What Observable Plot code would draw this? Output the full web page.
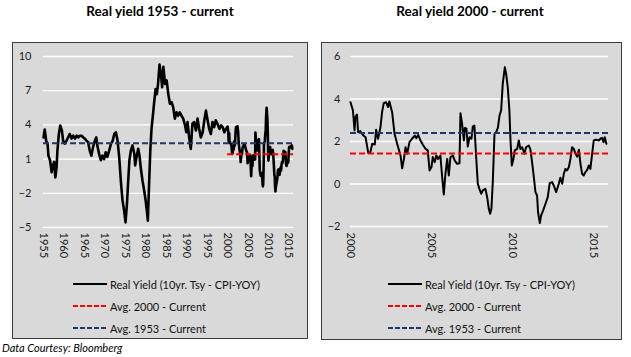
<!DOCTYPE html>
<html>
<head>
<meta charset="utf-8">
<script src="https://cdn.jsdelivr.net/npm/d3@7"></script>
<script src="https://cdn.jsdelivr.net/npm/@observablehq/plot@0.6"></script>
<style>
  html, body { margin: 0; padding: 0; background: #fff; }
  body { width: 631px; height: 357px; position: relative; overflow: hidden; font-family: Lato, "Liberation Sans", sans-serif; color: #000; }
  .title { position: absolute; top: 3px; font-weight: bold; font-size: 13.5px; text-align: center; white-space: nowrap; }
  .panel { position: absolute; background: #d9d9d9; border: 1px solid #3c3c3c; box-sizing: border-box; }
  .chart { position: absolute; }
  .leg { position: absolute; font-size: 11px; white-space: nowrap; display: flex; align-items: center; color: #111; }
  .leg svg { margin-right: 3px; }
  .caption { position: absolute; left: 2px; top: 341px; font-style: italic; font-size: 11px; color: #000; }
</style>
</head>
<body>
<div class="title" style="left:0;width:320px;">Real yield 1953 - current</div>
<div class="title" style="left:315px;width:310px;">Real yield 2000 - current</div>
<div class="panel" style="left:12px;top:42px;width:296px;height:297px;"></div>
<div class="panel" style="left:321px;top:42px;width:301px;height:298px;"></div>
<div class="chart" id="left" style="left:12px;top:43px;"></div>
<div class="chart" id="right" style="left:322px;top:43px;"></div>
<div id="legends"></div>
<div class="caption">Data Courtesy: Bloomberg</div>
<script>
// ---- data ----
const seriesName = "Real Yield (10yr. Tsy - CPI-YOY)";
const avgName2000 = "Avg. 2000 - Current";
const avgName1953 = "Avg. 1953 - Current";
const avg1953 = 2.4;
const avg2000 = 1.43;

// 1955-1999
const datesEarly = [1955.0,1955.3,1955.65,1956.0,1956.2,1956.6,1957.0,1957.3,1957.6,1957.9,1958.2,1958.4,1958.75,1959.1,1959.5,1959.8,1960.2,1960.6,1961.0,1961.4,1961.85,1962.25,1962.7,1963.1,1963.5,1963.9,1964.3,1964.7,1965.1,1965.5,1965.9,1966.3,1966.7,1967.1,1967.55,1967.9,1968.2,1968.6,1969.0,1969.4,1969.8,1970.2,1970.6,1971.05,1971.5,1971.9,1972.3,1972.7,1973.1,1973.5,1973.9,1974.3,1974.7,1975.05,1975.4,1975.7,1976.0,1976.35,1976.75,1977.2,1977.4,1977.8,1978.15,1978.5,1978.8,1979.2,1979.6,1979.95,1980.3,1980.5,1980.75,1981.1,1981.4,1981.7,1982.05,1982.4,1982.7,1983.0,1983.35,1983.7,1984.0,1984.3,1984.7,1985.1,1985.5,1985.9,1986.3,1986.7,1987.1,1987.5,1987.9,1988.3,1988.75,1989.15,1989.6,1989.9,1990.2,1990.6,1991.0,1991.4,1991.8,1992.25,1992.65,1993.05,1993.45,1993.9,1994.3,1994.7,1995.1,1995.5,1995.9,1996.3,1996.7,1997.1,1997.5,1998.0,1998.4,1998.8,1999.2,1999.6];
const valuesEarly = [2.9,3.6,2.6,2.3,1.3,0.9,-0.15,0.45,0.75,-0.6,0.3,1.75,3.2,3.95,3.5,2.6,2.35,2.6,2.9,3.2,2.8,3.05,2.8,3.05,2.9,3.05,3.05,2.9,2.8,2.6,2.5,1.75,1.3,2.05,2.6,2.9,2.1,1.45,0.9,1.3,1.0,1.6,1.2,1.75,2.35,2.6,3.2,3.35,2.6,1.2,-0.9,-2.6,-3.5,-4.55,-2.9,-0.9,0.9,1.75,2.2,1.45,0.45,1.3,1.9,1.2,0.15,-0.9,-1.75,-2.6,-3.65,-4.4,-1.75,1.75,3.65,4.7,6.0,7.15,6.7,7.6,9.3,8.5,7.3,9.1,7.6,7.9,6.7,5.85,6.0,5.55,4.55,5.1,4.8,5.1,4.8,4.55,3.95,3.35,4.25,2.9,1.9,4.1,4.25,3.5,4.55,3.65,2.9,3.35,4.4,5.25,4.4,3.65,3.2,4.25,3.8,4.4,4.1,3.65,3.95,3.8,3.35,3.65];

// 2000-2015
const datesRecent = [2000.0,2000.15,2000.25,2000.3,2000.4,2000.47,2000.6,2000.8,2000.93,2001.1,2001.23,2001.34,2001.5,2001.58,2001.7,2001.85,2001.95,2002.05,2002.2,2002.32,2002.4,2002.57,2002.72,2002.88,2003.09,2003.19,2003.3,2003.4,2003.5,2003.64,2003.8,2003.97,2004.07,2004.18,2004.32,2004.47,2004.63,2004.77,2004.88,2005.0,2005.08,2005.2,2005.3,2005.41,2005.55,2005.66,2005.76,2005.86,2005.97,2006.07,2006.17,2006.32,2006.44,2006.58,2006.73,2006.79,2006.89,2007.0,2007.06,2007.16,2007.24,2007.35,2007.47,2007.55,2007.65,2007.76,2007.86,2007.96,2008.07,2008.17,2008.33,2008.44,2008.54,2008.62,2008.7,2008.79,2008.89,2008.99,2009.1,2009.2,2009.3,2009.4,2009.53,2009.61,2009.71,2009.81,2009.88,2009.96,2010.06,2010.14,2010.29,2010.39,2010.49,2010.6,2010.74,2010.84,2011.0,2011.1,2011.2,2011.32,2011.42,2011.52,2011.58,2011.69,2011.77,2011.89,2012.04,2012.18,2012.3,2012.45,2012.55,2012.7,2012.86,2012.96,2013.07,2013.17,2013.27,2013.37,2013.48,2013.58,2013.68,2013.79,2013.89,2014.0,2014.1,2014.2,2014.3,2014.4,2014.5,2014.6,2014.71,2014.81,2014.92,2015.02,2015.16,2015.33,2015.43,2015.53,2015.62,2015.7,2015.8];
const valuesRecent = [3.85,3.46,2.52,3.15,3.27,2.44,2.49,2.28,2.2,1.45,1.5,1.89,1.86,2.55,2.13,2.67,3.38,3.8,3.85,3.62,3.88,3.38,2.36,1.89,1.34,0.74,1.18,1.73,1.42,1.97,2.13,2.28,2.16,2.31,2.05,1.85,1.66,1.58,0.64,0.8,1.27,1.03,1.34,1.18,1.34,0.32,-0.49,0.47,1.18,0.4,1.26,1.34,1.1,0.95,0.98,3.33,2.83,2.05,2.64,2.6,1.76,2.2,2.13,2.7,2.75,1.26,0.01,-0.23,-0.46,-0.3,-0.23,-0.62,-1.17,-1.4,-1.17,0.16,2.36,2.44,2.64,3.22,3.46,4.71,5.5,5.18,4.56,3.46,2.05,0.87,1.18,1.58,1.65,2.05,1.65,1.73,1.42,1.73,1.81,1.65,1.1,0.32,-0.38,-0.54,-1.33,-1.84,-1.48,-1.25,-0.93,-0.62,0.04,0.09,-0.07,-0.38,0.01,0.29,0.01,0.48,0.71,0.64,0.79,1.18,1.73,1.65,1.42,1.29,1.61,0.95,0.48,0.4,0.56,0.64,0.87,0.71,1.42,2.05,2.08,2.05,2.13,2.17,1.97,2.2,1.89];

const leftYTicks = [-5, -2, 1, 4, 7, 10];
const leftXTicks = [1955,1960,1965,1970,1975,1980,1985,1990,1995,2000,2005,2010,2015];
const rightYTicks = [-2, 0, 2, 4, 6];
const rightXTicks = [2000, 2005, 2010, 2015];

const black = "#000000";
const navy = "#1f3864";
const red = "#ff0000";

// ---- build tables ----
const recent = datesRecent.map((d, i) => ({date: d, value: valuesRecent[i]}));
const full = datesEarly.map((d, i) => ({date: d, value: valuesEarly[i]})).concat(recent);

const axisStyle = {background: "transparent", fontFamily: "Lato, 'Liberation Sans', sans-serif", fontSize: "11px", color: "#1a1a1a", overflow: "visible"};

const leftChart = Plot.plot({
  width: 295, height: 222,
  marginLeft: 31, marginRight: 14, marginTop: 13, marginBottom: 38,
  style: axisStyle,
  x: {domain: [1955, 2016.1], ticks: leftXTicks, tickFormat: d => String(d), tickRotate: 90, tickSize: 0, tickPadding: 5, label: null},
  y: {domain: [-5, 10], ticks: leftYTicks, tickSize: 0, tickPadding: 12, label: null},
  marks: [
    Plot.gridY(leftYTicks, {stroke: "white", strokeOpacity: 1, strokeWidth: 1.3}),
    Plot.line(full, {x: "date", y: "value", stroke: black, strokeWidth: 2.6}),
    Plot.ruleY([avg1953], {stroke: navy, strokeWidth: 2, strokeDasharray: "6,3"}),
    Plot.ruleY([{v: avg2000, a: 2000, b: 2016.1}], {y: "v", x1: "a", x2: "b", stroke: red, strokeWidth: 2, strokeDasharray: "6,3"})
  ]
});
document.getElementById("left").appendChild(leftChart);

const rightChart = Plot.plot({
  width: 298, height: 222,
  marginLeft: 28, marginRight: 12, marginTop: 13, marginBottom: 39,
  style: axisStyle,
  x: {domain: [2000, 2015.93], ticks: rightXTicks, tickFormat: d => String(d), tickRotate: 90, tickSize: 0, tickPadding: 6, label: null},
  y: {domain: [-2, 6], ticks: rightYTicks, tickSize: 0, tickPadding: 10, label: null},
  marks: [
    Plot.gridY(rightYTicks, {stroke: "white", strokeOpacity: 1, strokeWidth: 1.3}),
    Plot.line(recent, {x: "date", y: "value", stroke: black, strokeWidth: 2}),
    Plot.ruleY([avg1953], {stroke: navy, strokeWidth: 2, strokeDasharray: "6,3"}),
    Plot.ruleY([avg2000], {stroke: red, strokeWidth: 2, strokeDasharray: "6,3"})
  ]
});
document.getElementById("right").appendChild(rightChart);

// ---- legends ----
const legendItems = [
  {name: seriesName, color: black, dash: null},
  {name: avgName2000, color: red, dash: "5,2"},
  {name: avgName1953, color: navy, dash: "5,2"}
];
const legendRows = [284, 306, 328];
const legendX = [73, 388];
const host = document.getElementById("legends");
legendX.forEach(lx => {
  legendItems.forEach((it, i) => {
    const div = document.createElement("div");
    div.className = "leg";
    div.style.left = lx + "px";
    div.style.top = (legendRows[i] - 8) + "px";
    div.style.height = "16px";
    const dash = it.dash ? `stroke-dasharray="${it.dash}"` : "";
    div.innerHTML = `<svg width="34" height="6"><line x1="0" x2="34" y1="3" y2="3" stroke="${it.color}" stroke-width="2" ${dash}/></svg><span>${it.name}</span>`;
    host.appendChild(div);
  });
});
</script>
</body>
</html>
